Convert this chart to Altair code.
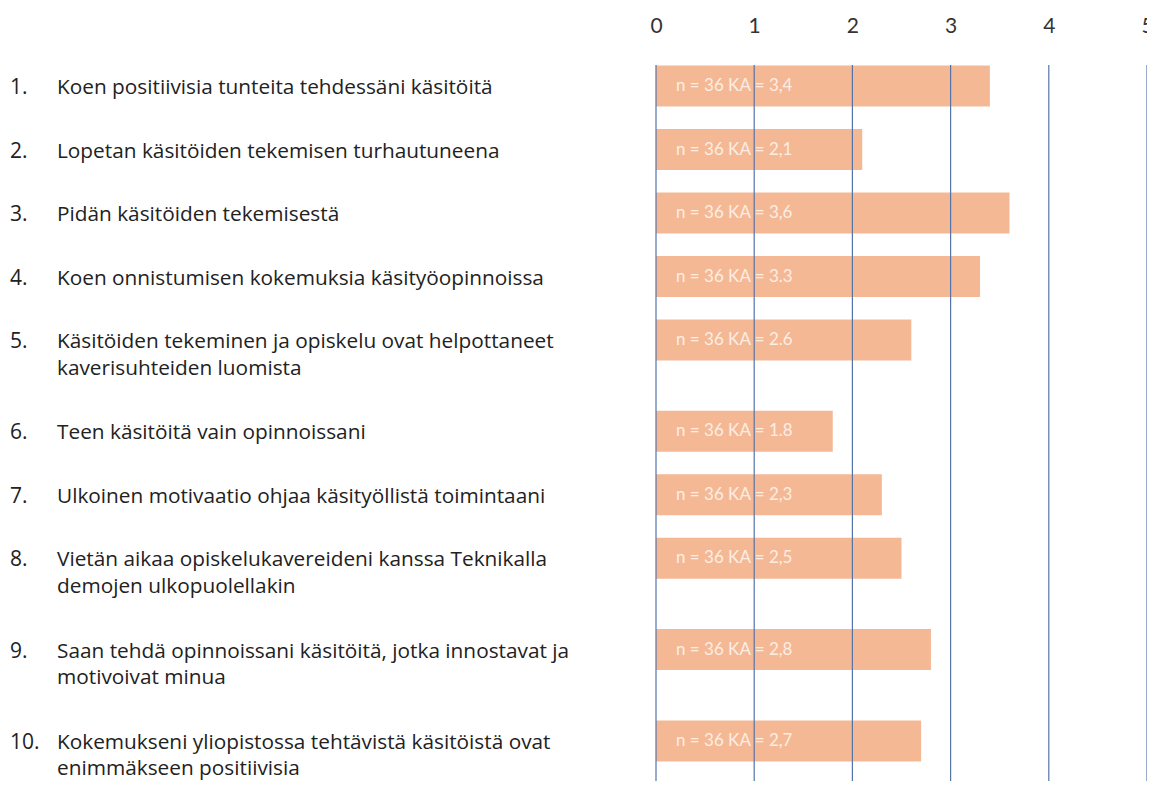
import altair as alt
import pandas as pd

# ---- data ----
numbers = ["1.", "2.", "3.", "4.", "5.", "6.", "7.", "8.", "9.", "10."]
statements = [
    "Koen positiivisia tunteita tehdessäni käsitöitä",
    "Lopetan käsitöiden tekemisen turhautuneena",
    "Pidän käsitöiden tekemisestä",
    "Koen onnistumisen kokemuksia käsityöopinnoissa",
    "Käsitöiden tekeminen ja opiskelu ovat helpottaneet\nkaverisuhteiden luomista",
    "Teen käsitöitä vain opinnoissani",
    "Ulkoinen motivaatio ohjaa käsityöllistä toimintaani",
    "Vietän aikaa opiskelukavereideni kanssa Teknikalla\n\u00a0demojen ulkopuolellakin",
    "Saan tehdä opinnoissani käsitöitä, jotka innostavat ja\n\u00a0motivoivat minua",
    "Kokemukseni yliopistossa tehtävistä käsitöistä ovat\nenimmäkseen positiivisia",
]
means = [3.4, 2.1, 3.6, 3.3, 2.6, 1.8, 2.3, 2.5, 2.8, 2.7]
mean_labels = ["3,4", "2,1", "3,6", "3.3", "2.6", "1.8", "2,3", "2,5", "2,8", "2,7"]
n_resp = [36, 36, 36, 36, 36, 36, 36, 36, 36, 36]
x_ticks = [0, 1, 2, 3, 4, 5]

# ---- layout (rows spaced by how many text lines the previous statement has) ----
PLOT_W = 491
PLOT_H = 716
FIRST = 21.0
BASE_GAP = 35.7
LINE_GAP = 27.8

pos = []
cur = FIRST
for i, s in enumerate(statements):
    if i > 0:
        cur += BASE_GAP + LINE_GAP * (statements[i - 1].count("\n") + 1)
    pos.append(cur)

df = pd.DataFrame({
    "num": numbers,
    "stmt": statements,
    "mean": means,
    "pos": pos,
    "lab": [f"n = {n} KA = {m}" for n, m in zip(n_resp, mean_labels)],
})
grid = pd.DataFrame({"v": x_ticks})

xs = alt.Scale(domain=[0, 5], nice=False, zero=True, padding=0)
y_enc = alt.Y("pos:Q", scale=alt.Scale(domain=[PLOT_H, 0], nice=False, zero=False, padding=0),
              axis=None)

base = alt.Chart(df)

bars = base.mark_bar(color="#F4B994", height=41).encode(
    x=alt.X("mean:Q", scale=xs,
            axis=alt.Axis(orient="top", values=x_ticks, grid=False, domain=False,
                          ticks=False, labelPadding=29, labelFontSize=21,
                          labelFlush=False, labelBound=False,
                          labelFont="Lato", labelColor="#333333", title=None,
                          format="d")),
    x2=alt.datum(0),
    y=y_enc,
)

bar_text = base.mark_text(align="left", baseline="middle", font="Lato",
                          fontSize=17, color="white", opacity=0.75).encode(
    x=alt.value(20),
    y=y_enc,
    text="lab:N",
)

rules = alt.Chart(grid).mark_rule(color="#5673A8", strokeWidth=1.2).encode(
    x=alt.X("v:Q", scale=xs),
    y=alt.value(0),
    y2=alt.value(PLOT_H),
)

num_text = base.mark_text(align="left", baseline="middle", font="Open Sans",
                          fontSize=21, color="#222222", dy=2).encode(
    x=alt.value(-646),
    y=y_enc,
    text="num:N",
)

stmt_text = base.mark_text(align="left", baseline="top", font="Open Sans",
                           fontSize=20.8, color="#222222", lineBreak="\n",
                           lineHeight=26.5, dy=-8).encode(
    x=alt.value(-599),
    y=y_enc,
    text="stmt:N",
)

chart = alt.layer(bars, bar_text, rules, num_text, stmt_text).properties(
    width=PLOT_W, height=PLOT_H,
    padding={"left": 648, "top": 57, "right": 0, "bottom": 0},
    autosize=alt.AutoSizeParams(type="none"),
    background="white",
).configure_view(stroke=None)

chart.save("out.html", embed_options={"renderer": "svg", "actions": False})
